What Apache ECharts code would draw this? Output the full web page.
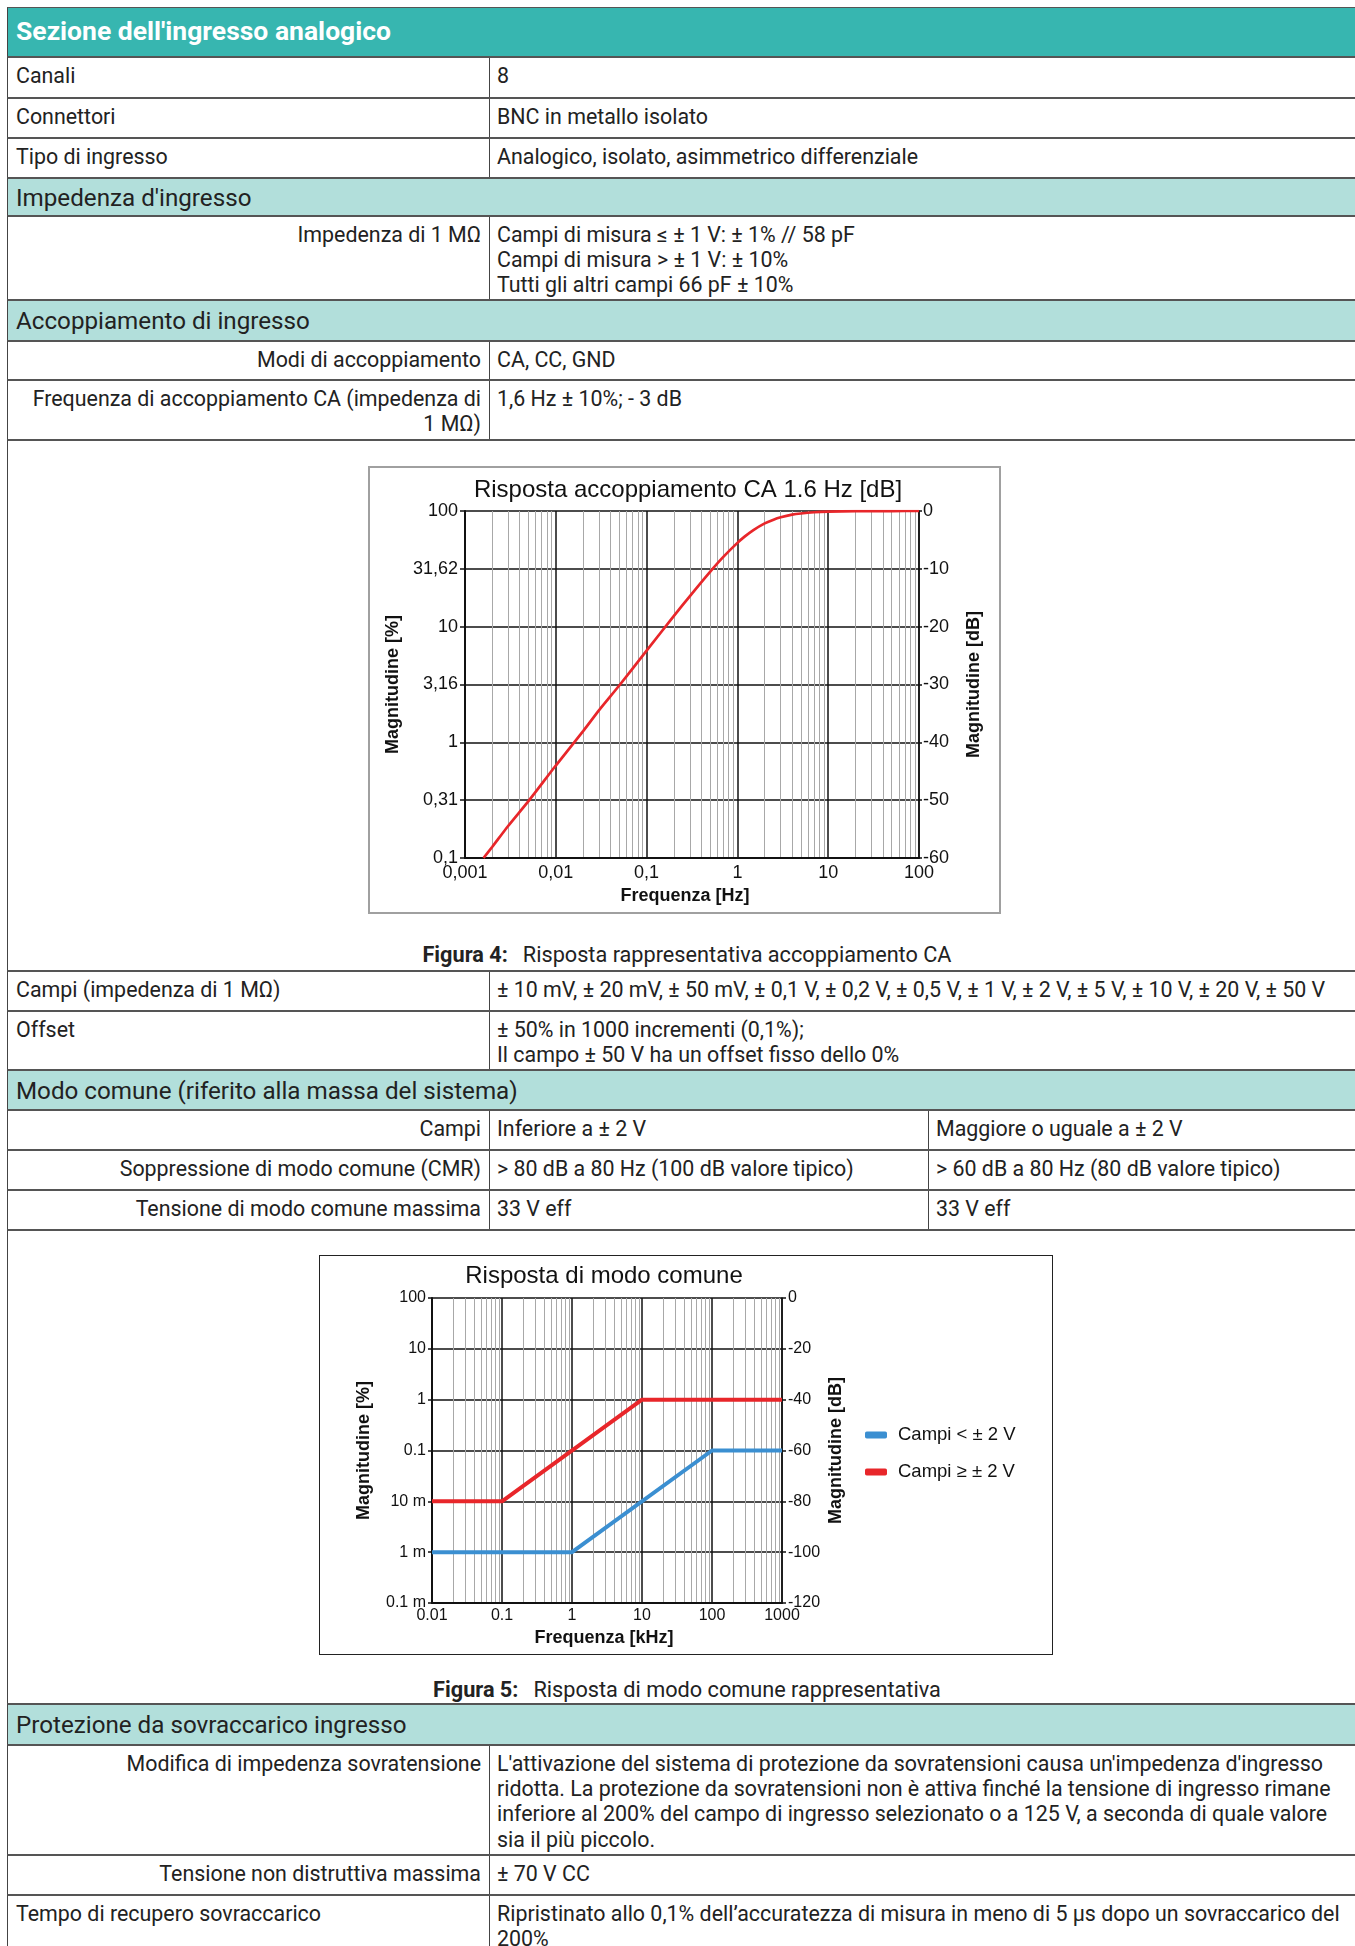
<!DOCTYPE html>
<html><head><meta charset="utf-8">
<script src="https://cdn.jsdelivr.net/npm/echarts@6/dist/echarts.min.js"></script>
<style>
body{margin:0;background:#fff;width:1355px;height:1946px;overflow:hidden;position:relative;font-family:Roboto,sans-serif;color:#222;}
.r{position:absolute;left:7px;width:1360px;box-sizing:border-box;border-top:2px solid #555;border-left:1px solid #444;}
.c{position:absolute;top:0;bottom:0;box-sizing:border-box;padding:4.5px 8px 0 8px;font-size:21.4px;line-height:25.4px;white-space:nowrap;}
.c + .c{border-left:1px solid #444;padding-left:7px;}
.a{left:0;width:481px;}
.b{left:481px;right:0;}
.b2{left:481px;width:439px;}
.c3{left:920px;right:0;}
.rt{text-align:right;}
.sec{background:#b2dfdb;font-size:24.2px;padding-left:8px;padding-top:1px;display:flex;align-items:center;}
.head{background:#37b6b0;color:#fff;font-weight:bold;font-size:26.5px;padding-left:8px;padding-bottom:4px;display:flex;align-items:center;border-top:1px solid #555;}
.cap{position:absolute;left:7px;width:1360px;text-align:center;font-size:21.7px;line-height:24px;}
.cap b{margin-right:15px;}
.frame{position:absolute;box-sizing:border-box;}
</style></head><body>
<div class="r head" style="top:7px;height:49px;">Sezione dell'ingresso analogico</div>
<div class="r" style="top:56px;height:41px;"><div class="c a">Canali</div><div class="c b">8</div></div>
<div class="r" style="top:97px;height:40px;"><div class="c a">Connettori</div><div class="c b">BNC in metallo isolato</div></div>
<div class="r" style="top:137px;height:40px;"><div class="c a">Tipo di ingresso</div><div class="c b">Analogico, isolato, asimmetrico differenziale</div></div>
<div class="r sec" style="top:177px;height:38px;">Impedenza d'ingresso</div>
<div class="r" style="top:215px;height:84px;"><div class="c a rt">Impedenza di 1 MΩ</div><div class="c b">Campi di misura ≤ ± 1 V: ± 1% // 58 pF<br>Campi di misura &gt; ± 1 V: ± 10%<br>Tutti gli altri campi 66 pF ± 10%</div></div>
<div class="r sec" style="top:299px;height:41px;">Accoppiamento di ingresso</div>
<div class="r" style="top:340px;height:39px;"><div class="c a rt">Modi di accoppiamento</div><div class="c b">CA, CC, GND</div></div>
<div class="r" style="top:379px;height:60px;"><div class="c a rt">Frequenza di accoppiamento CA (impedenza di<br>1 MΩ)</div><div class="c b">1,6 Hz ± 10%; - 3 dB</div></div>
<div class="r" style="top:439px;height:531px;"></div>
<div class="r" style="top:970px;height:40px;"><div class="c a">Campi (impedenza di 1 MΩ)</div><div class="c b">± 10 mV, ± 20 mV, ± 50 mV, ± 0,1 V, ± 0,2 V, ± 0,5 V, ± 1 V, ± 2 V, ± 5 V, ± 10 V, ± 20 V, ± 50 V</div></div>
<div class="r" style="top:1010px;height:59px;"><div class="c a">Offset</div><div class="c b">± 50% in 1000 incrementi (0,1%);<br>Il campo ± 50 V ha un offset fisso dello 0%</div></div>
<div class="r sec" style="top:1069px;height:40px;">Modo comune (riferito alla massa del sistema)</div>
<div class="r" style="top:1109px;height:40px;"><div class="c a rt">Campi</div><div class="c b2">Inferiore a ± 2 V</div><div class="c c3">Maggiore o uguale a ± 2 V</div></div>
<div class="r" style="top:1149px;height:40px;"><div class="c a rt">Soppressione di modo comune (CMR)</div><div class="c b2">&gt; 80 dB a 80 Hz (100 dB valore tipico)</div><div class="c c3">&gt; 60 dB a 80 Hz (80 dB valore tipico)</div></div>
<div class="r" style="top:1189px;height:40px;"><div class="c a rt">Tensione di modo comune massima</div><div class="c b2">33 V eff</div><div class="c c3">33 V eff</div></div>
<div class="r" style="top:1229px;height:474px;"></div>
<div class="r sec" style="top:1703px;height:41px;">Protezione da sovraccarico ingresso</div>
<div class="r" style="top:1744px;height:110px;"><div class="c a rt">Modifica di impedenza sovratensione</div><div class="c b">L'attivazione del sistema di protezione da sovratensioni causa un'impedenza d'ingresso<br>ridotta. La protezione da sovratensioni non è attiva finché la tensione di ingresso rimane<br>inferiore al 200% del campo di ingresso selezionato o a 125 V, a seconda di quale valore<br>sia il più piccolo.</div></div>
<div class="r" style="top:1854px;height:40px;"><div class="c a rt">Tensione non distruttiva massima</div><div class="c b">± 70 V CC</div></div>
<div class="r" style="top:1894px;height:80px;"><div class="c a">Tempo di recupero sovraccarico</div><div class="c b">Ripristinato allo 0,1% dell’accuratezza di misura in meno di 5 µs dopo un sovraccarico del<br>200%</div></div>

<div class="cap" style="top:943px;"><b>Figura 4:</b>Risposta rappresentativa accoppiamento CA</div>
<div class="cap" style="top:1678px;"><b>Figura 5:</b>Risposta di modo comune rappresentativa</div>

<div class="frame" style="left:368px;top:466px;width:633px;height:448px;border:2px solid #a0a0a0;"></div>
<div id="c1" style="position:absolute;left:368px;top:466px;width:633px;height:448px;"></div>
<div class="frame" style="left:319px;top:1255px;width:734px;height:400px;border:1.5px solid #222;"></div>
<div id="c2" style="position:absolute;left:319px;top:1255px;width:734px;height:400px;"></div>

<script>
// ---- Figure 4: AC coupling response ----
const acFreqHz = [0.0016, 0.002, 0.003, 0.005, 0.01, 0.02, 0.03, 0.05, 0.1, 0.2, 0.3, 0.5, 0.7, 1, 1.2, 1.5, 2, 2.5, 3, 4, 5, 7, 10, 20, 50, 100];
const acMagPct = [0.1, 0.125, 0.19, 0.31, 0.63, 1.25, 1.9, 3.1, 6.2, 12.4, 18.4, 29.8, 40.1, 53, 60, 68.4, 78.1, 84.2, 88.2, 92.9, 95.2, 97.5, 98.7, 99.7, 99.95, 100];
const acFreqLabels = ['0,001', '0,01', '0,1', '1', '10', '100'];
const acPctLabels = ['0,1', '0,31', '1', '3,16', '10', '31,62', '100'];

// ---- Figure 5: common mode response ----
const cmFreqLabels = ['0.01', '0.1', '1', '10', '100', '1000'];
const cmPctLabels = ['0.1 m', '1 m', '10 m', '0.1', '1', '10', '100'];
const cmLowFreq = [0.01, 1, 100, 1000];
const cmLowPct = [0.001, 0.001, 0.1, 0.1];
const cmHighFreq = [0.01, 0.1, 10, 1000];
const cmHighPct = [0.01, 0.01, 1, 1];
const cmSeriesNames = ['Campi < ± 2 V', 'Campi ≥ ± 2 V'];

const F = 'Liberation Sans';
const INK = '#111';
const zip = (xs, ys) => xs.map((x, i) => [x, ys[i]]);

const c1 = echarts.init(document.getElementById('c1'));
c1.setOption({
  animation: false,
  title: {text: 'Risposta accoppiamento CA 1.6 Hz [dB]', left: 315, top: 7, textAlign: 'center',
    textStyle: {fontFamily: F, fontSize: 24, fontWeight: 'normal', color: INK}},
  grid: {left: 97, top: 45, width: 454, height: 347},
  xAxis: {type: 'log', logBase: 10, min: 0.001, max: 100,
    name: 'Frequenza [Hz]', nameLocation: 'middle', nameGap: 26,
    nameTextStyle: {fontFamily: F, fontSize: 18, fontWeight: 'bold', color: INK, padding: [0, 14, 0, 0]},
    axisLine: {show: true, onZero: false, lineStyle: {color: INK, width: 2}},
    axisTick: {show: false},
    axisLabel: {margin: 6, fontFamily: F, fontSize: 18, color: INK,
      formatter: v => acFreqLabels[Math.round(Math.log10(v)) + 3]},
    splitLine: {show: true, lineStyle: {color: INK, width: 1.5}},
    minorTick: {show: false, splitNumber: 9},
    minorSplitLine: {show: true, lineStyle: {color: '#a8a8a8', width: 1}}},
  yAxis: [
    {type: 'log', logBase: 10, min: 0.1, max: 100, show: false},
    {type: 'value', min: -60, max: 0, interval: 10, position: 'left',
      name: 'Magnitudine [%]', nameLocation: 'middle', nameGap: 63,
      nameTextStyle: {fontFamily: F, fontSize: 18, fontWeight: 'bold', color: INK},
      axisLine: {show: true, onZero: false, lineStyle: {color: INK, width: 2}},
      axisTick: {show: true, length: 5, lineStyle: {color: INK, width: 1.5}},
      axisLabel: {margin: 7, fontFamily: F, fontSize: 18, color: INK,
        formatter: (v, i) => acPctLabels[i]},
      splitLine: {show: true, lineStyle: {color: INK, width: 1.5}}},
    {type: 'value', min: -60, max: 0, interval: 10, position: 'right',
      name: 'Magnitudine [dB]', nameLocation: 'middle', nameGap: 46,
      nameTextStyle: {fontFamily: F, fontSize: 18, fontWeight: 'bold', color: INK},
      axisLine: {show: true, onZero: false, lineStyle: {color: INK, width: 1.5}},
      axisTick: {show: true, length: 3, lineStyle: {color: INK, width: 1.5}},
      axisLabel: {margin: 4, fontFamily: F, fontSize: 18, color: INK},
      splitLine: {show: false}}
  ],
  series: [{type: 'line', xAxisIndex: 0, yAxisIndex: 0, data: zip(acFreqHz, acMagPct),
    symbol: 'none', smooth: 0.2, lineStyle: {color: '#e8262a', width: 2.7}}]
});

const c2 = echarts.init(document.getElementById('c2'));
c2.setOption({
  animation: false,
  title: {text: 'Risposta di modo comune', left: 280, top: 4, textAlign: 'center',
    textStyle: {fontFamily: F, fontSize: 24, fontWeight: 'normal', color: INK}},
  grid: {left: 113, top: 43, width: 350, height: 305},
  legend: {orient: 'vertical', left: 541, top: 165, itemWidth: 22, itemHeight: 7, itemGap: 17,
    icon: 'roundRect', data: cmSeriesNames,
    textStyle: {fontFamily: F, fontSize: 18.5, color: INK, lineHeight: 20, padding: [0, 0, 0, 6]}},
  xAxis: {type: 'log', logBase: 10, min: 0.01, max: 1000,
    name: 'Frequenza [kHz]', nameLocation: 'middle', nameGap: 23,
    nameTextStyle: {fontFamily: F, fontSize: 18, fontWeight: 'bold', color: INK, padding: [0, 6, 0, 0]},
    axisLine: {show: true, onZero: false, lineStyle: {color: INK, width: 2}},
    axisTick: {show: false},
    axisLabel: {margin: 5, fontFamily: F, fontSize: 16, color: INK,
      formatter: v => cmFreqLabels[Math.round(Math.log10(v)) + 2]},
    splitLine: {show: true, lineStyle: {color: INK, width: 1.5}},
    minorTick: {show: false, splitNumber: 9},
    minorSplitLine: {show: true, lineStyle: {color: '#a8a8a8', width: 1}}},
  yAxis: [
    {type: 'log', logBase: 10, min: 0.0001, max: 100, position: 'left',
      name: 'Magnitudine [%]', nameLocation: 'middle', nameGap: 59,
      nameTextStyle: {fontFamily: F, fontSize: 18, fontWeight: 'bold', color: INK},
      axisLine: {show: true, onZero: false, lineStyle: {color: INK, width: 2}},
      axisTick: {show: true, length: 4, lineStyle: {color: INK, width: 1.5}},
      axisLabel: {margin: 6, fontFamily: F, fontSize: 16, color: INK,
        formatter: v => cmPctLabels[Math.round(Math.log10(v)) + 4]},
      splitLine: {show: true, lineStyle: {color: INK, width: 1.5}}},
    {type: 'value', min: -120, max: 0, interval: 20, position: 'right',
      name: 'Magnitudine [dB]', nameLocation: 'middle', nameGap: 45,
      nameTextStyle: {fontFamily: F, fontSize: 18, fontWeight: 'bold', color: INK},
      axisLine: {show: true, onZero: false, lineStyle: {color: INK, width: 1.5}},
      axisTick: {show: true, length: 4, lineStyle: {color: INK, width: 1.5}},
      axisLabel: {margin: 6, fontFamily: F, fontSize: 16, color: INK},
      splitLine: {show: false}}
  ],
  series: [
    {name: cmSeriesNames[0], type: 'line', yAxisIndex: 0, data: zip(cmLowFreq, cmLowPct),
      symbol: 'none', color: '#3b8fd1', lineStyle: {color: '#3b8fd1', width: 4}},
    {name: cmSeriesNames[1], type: 'line', yAxisIndex: 0, data: zip(cmHighFreq, cmHighPct),
      symbol: 'none', color: '#e8262a', lineStyle: {color: '#e8262a', width: 4}}
  ]
});
</script>
</body></html>
